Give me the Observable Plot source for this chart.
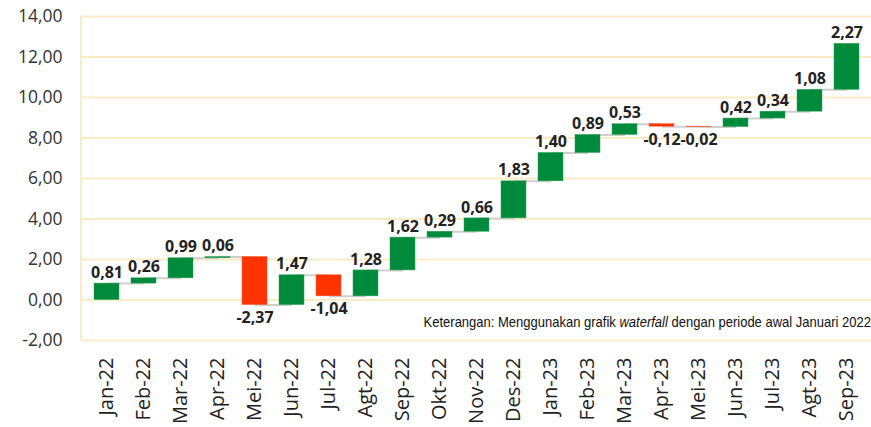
<!DOCTYPE html>
<html>
<head>
<meta charset="utf-8">
<script src="https://cdn.jsdelivr.net/npm/d3@7"></script>
<script src="https://cdn.jsdelivr.net/npm/@observablehq/plot@0.6"></script>
<style>
  html, body { margin: 0; padding: 0; background: #fff; }
</style>
</head>
<body>
<div id="chart"></div>
<script>
const categories = ["Jan-22","Feb-22","Mar-22","Apr-22","Mei-22","Jun-22","Jul-22","Agt-22","Sep-22","Okt-22","Nov-22","Des-22","Jan-23","Feb-23","Mar-23","Apr-23","Mei-23","Jun-23","Jul-23","Agt-23","Sep-23"];
const changes = [0.81,0.26,0.99,0.06,-2.37,1.47,-1.04,1.28,1.62,0.29,0.66,1.83,1.40,0.89,0.53,-0.12,-0.02,0.42,0.34,1.08,2.27];
const yTicks = [-2,0,2,4,6,8,10,12,14];
const note = "Keterangan: Menggunakan grafik ";
const noteItalic = "waterfall";
const noteEnd = " dengan periode awal Januari 2022";

const fmt = v => v.toFixed(2).replace(".", ",");

let acc = 0;
const rows = categories.map((c, i) => {
  const start = acc;
  acc = +(acc + changes[i]).toFixed(4);
  return {cat: c, start, end: acc, change: changes[i]};
});
const links = rows.slice(0, -1).map((r, i) => ({from: r.cat, to: rows[i + 1].cat, level: r.end}));

const green = "#008a3b";
const red = "#ff3300";

const plot = Plot.plot({
  width: 871,
  height: 427,
  marginLeft: 81,
  marginRight: 0,
  marginTop: 16,
  marginBottom: 87,
  style: {fontFamily: "'Open Sans', sans-serif", background: "#fff"},
  x: {domain: categories, padding: 0.33, label: null},
  y: {domain: [-2, 14], label: null},
  marks: [
    Plot.ruleY(yTicks, {stroke: "#fbecc6", strokeWidth: 2}),
    Plot.axisY({ticks: yTicks, tickFormat: fmt, tickSize: 0, tickPadding: 19, fontSize: 17.5, fill: "#333", label: null}),
    Plot.axisX({tickSize: 0, tickRotate: -90, tickPadding: 17, fontSize: 20, fill: "#222", label: null}),
    Plot.link(links, {x1: "from", x2: "to", y1: "level", y2: "level", stroke: "#cfcfcf", strokeWidth: 2}),
    Plot.barY(rows, {x: "cat", y1: "start", y2: "end", fill: d => d.change >= 0 ? green : red, stroke: d => d.change >= 0 ? "#2fa35a" : "#ff5a2e", strokeWidth: 0.5}),
    Plot.text(rows.filter(d => d.change >= 0), {x: "cat", y: "end", text: d => fmt(d.change), dy: -11, fontWeight: "bold", fontSize: 16, fill: "#222", fontFamily: "'Open Sans', sans-serif"}),
    Plot.text(rows.filter(d => d.change < 0), {x: "cat", y: d => Math.min(d.start, d.end), text: d => fmt(d.change), dy: 13, fontWeight: "bold", fontSize: 16, fill: "#222", fontFamily: "'Open Sans', sans-serif"})
  ]
});

const svg = d3.select(plot);
const ys = plot.scale("y");
// left axis line
svg.insert("line", "g")
  .attr("x1", 81).attr("x2", 81)
  .attr("y1", ys.apply(14)).attr("y2", ys.apply(-2))
  .attr("stroke", "#fbecc6").attr("stroke-width", 2);

// annotation
const t = svg.append("text")
  .attr("transform", "translate(871,327) scale(0.93,1)")
  .attr("text-anchor", "end")
  .attr("font-family", "'Liberation Sans Narrow', 'Liberation Sans', Arial, sans-serif")
  .attr("font-size", 14)
  .attr("fill", "#111");
t.append("tspan").text(note);
t.append("tspan").attr("font-style", "italic").text(noteItalic);
t.append("tspan").text(noteEnd);

document.getElementById("chart").appendChild(plot);
</script>
</body>
</html>
